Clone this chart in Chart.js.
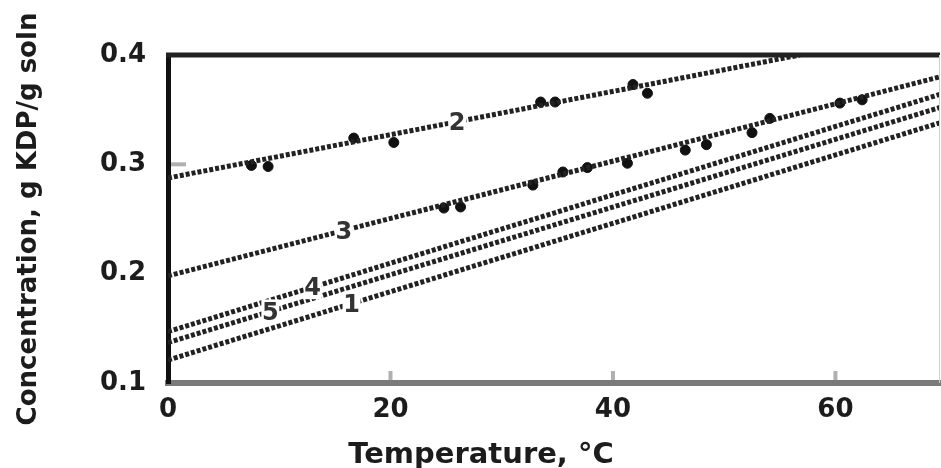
<!DOCTYPE html>
<html>
<head>
<meta charset="utf-8">
<script src="https://cdn.jsdelivr.net/npm/chart.js@4/dist/chart.umd.min.js"></script>
<style>
  html, body { margin: 0; padding: 0; background: #fff; overflow: hidden; }
  #wrap { width: 941px; height: 468px; position: relative; }
  #canvas { display: block; }
</style>
</head>
<body>
<div id="wrap"><canvas id="canvas"></canvas></div>
<script>
// curve names and their end points (temperature, concentration)
const curveNames = ['1', '2', '3', '4', '5'];
const curveT = [[0, 69.4], [0, 56.8], [0, 69.4], [0, 69.4], [0, 69.4]];
const curveC = [[0.121, 0.338], [0.2875, 0.4], [0.198, 0.380], [0.147, 0.364], [0.137, 0.352]];

// where the number sits on each curve (temperature)
const labelT = [16.5, 26, 15.8, 13, 9.2];

// measured points on curve 2
const temps2 = [7.5, 9, 16.7, 20.3, 33.5, 34.8, 41.8, 43.1];
const conc2 = [0.299, 0.298, 0.324, 0.320, 0.357, 0.357, 0.373, 0.365];

// measured points on curve 3
const temps3 = [24.8, 26.3, 32.8, 35.5, 37.7, 41.3, 46.5, 48.4, 52.5, 54.1, 60.4, 62.4];
const conc3 = [0.260, 0.261, 0.281, 0.293, 0.297, 0.301, 0.313, 0.318, 0.329, 0.342, 0.356, 0.359];

const xTicks = [0, 20, 40, 60];
const yTicks = [0.1, 0.2, 0.3, 0.4];

const ink = '#1c1c1c';
const tickFont = { family: 'DejaVu Sans', size: 26, weight: 'bold' };

function toXY(xs, ys) {
	return xs.map((x, i) => ({ x: x, y: ys[i] }));
}

const datasets = [];
curveNames.forEach((name, i) => {
	datasets.push({
		label: 'curve ' + name,
		data: toXY(curveT[i], curveC[i]),
		showLine: true,
		borderColor: '#222',
		borderWidth: 5,
		borderDash: [4, 2],
		pointRadius: 0,
		fill: false
	});
});
datasets.push({
	label: 'data 2',
	data: toXY(temps2, conc2),
	pointRadius: 5,
	pointBackgroundColor: '#111',
	pointBorderColor: '#111'
});
datasets.push({
	label: 'data 3',
	data: toXY(temps3, conc3),
	pointRadius: 5,
	pointBackgroundColor: '#111',
	pointBorderColor: '#111'
});

// frame, inner tick marks, curve numbers and x title
const decorations = {
	id: 'decorations',
	afterDatasetsDraw(chart) {
		const ctx = chart.ctx;
		const a = chart.chartArea;
		const xs = chart.scales.x;
		const ys = chart.scales.y;
		ctx.save();
		// top and right of the frame
		ctx.strokeStyle = '#222';
		ctx.lineWidth = 5;
		ctx.beginPath();
		ctx.moveTo(a.left - 2, a.top);
		ctx.lineTo(a.right, a.top);
		ctx.stroke();
		ctx.strokeStyle = '#cfcfcf';
		ctx.lineWidth = 1;
		ctx.beginPath();
		ctx.moveTo(a.right - 0.5, a.top);
		ctx.lineTo(a.right - 0.5, a.bottom);
		ctx.stroke();
		// small inner ticks
		ctx.strokeStyle = '#b0b0b0';
		ctx.lineWidth = 4;
		xTicks.slice(1).forEach((v) => {
			const px = xs.getPixelForValue(v);
			ctx.beginPath();
			ctx.moveTo(px, a.bottom - 3);
			ctx.lineTo(px, a.bottom - 12);
			ctx.stroke();
		});
		ctx.beginPath();
		const py = ys.getPixelForValue(0.3);
		ctx.moveTo(a.left + 3, py);
		ctx.lineTo(a.left + 18, py);
		ctx.stroke();
		// curve numbers
		ctx.font = 'bold 24px "DejaVu Sans"';
		ctx.textAlign = 'center';
		ctx.textBaseline = 'middle';
		curveNames.forEach((name, i) => {
			const t = labelT[i];
			const [t0, t1] = curveT[i];
			const [c0, c1] = curveC[i];
			const c = c0 + (c1 - c0) * (t - t0) / (t1 - t0);
			const px = xs.getPixelForValue(t);
			const pyl = ys.getPixelForValue(c);
			ctx.fillStyle = '#fff';
			ctx.fillRect(px - 9, pyl - 12, 18, 24);
			ctx.fillStyle = '#333';
			ctx.fillText(name, px, pyl + 2);
		});
		// x axis title
		ctx.fillStyle = ink;
		ctx.font = 'bold 29px "DejaVu Sans"';
		ctx.fillText('Temperature, \u00b0C', 481, 455);
		ctx.restore();
	}
};

const ctx = document.getElementById('canvas');
new Chart(ctx, {
	type: 'scatter',
	data: { datasets: datasets },
	options: {
		responsive: true,
		maintainAspectRatio: false,
		animation: false,
		layout: { autoPadding: false, padding: { top: 55, right: 1, left: 0, bottom: 0 } },
		plugins: {
			legend: { display: false },
			tooltip: { enabled: false }
		},
		scales: {
			x: {
				type: 'linear',
				min: 0,
				max: 69.4,
				afterBuildTicks: (scale) => { scale.ticks = xTicks.map((v) => ({ value: v })); },
				afterFit: (scale) => {
					scale.height = 85;
					scale.paddingLeft = 0;
					scale.paddingRight = 0;
				},
				border: { display: true, color: '#7a7a7a', width: 6 },
				grid: { display: false },
				ticks: { color: ink, font: tickFont, padding: 4, maxRotation: 0 }
			},
			y: {
				type: 'linear',
				min: 0.1,
				max: 0.4,
				afterBuildTicks: (scale) => { scale.ticks = yTicks.map((v) => ({ value: v })); },
				afterFit: (scale) => {
					scale.width = 168;
					scale.paddingTop = 0;
					scale.paddingBottom = 0;
				},
				border: { display: true, color: '#111', width: 5 },
				grid: { display: false },
				ticks: {
					color: ink,
					font: tickFont,
					padding: 14,
					callback: (v) => v.toFixed(1)
				},
				title: {
					display: true,
					text: 'Concentration, g KDP/g soln',
					color: ink,
					font: { family: 'DejaVu Sans', size: 26, weight: 'bold' },
					padding: { top: 14, bottom: 0 }
				}
			}
		}
	},
	plugins: [decorations]
});
</script>
</body>
</html>
